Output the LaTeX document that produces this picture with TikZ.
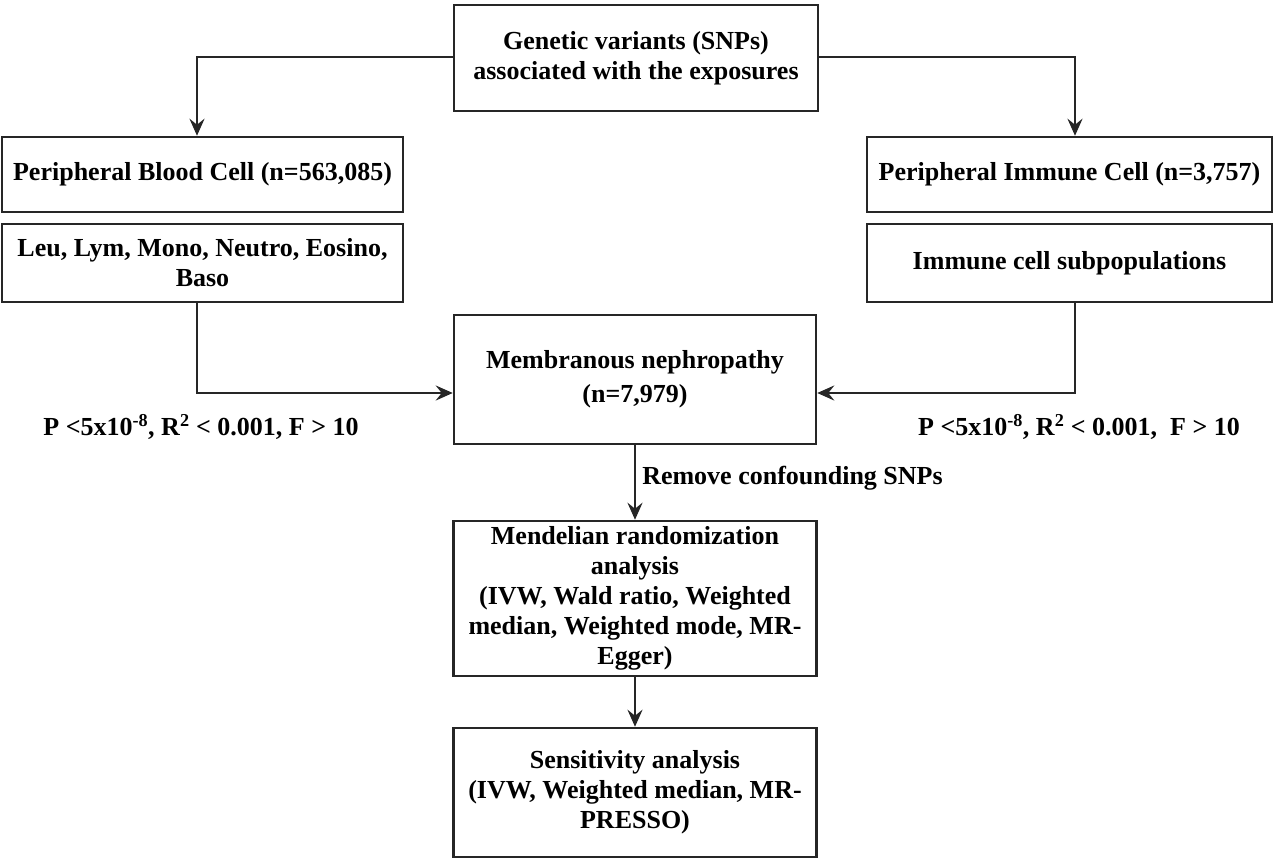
\documentclass[tikz,border=0pt]{standalone}
\usepackage{fontspec}
\setmainfont{Liberation Serif}
\usetikzlibrary{arrows.meta}
\begin{document}
\begin{tikzpicture}[x=1pt,y=-1pt,
  box/.style={draw=black!85,line width=2.5pt,align=center,inner sep=2pt,
    font=\fontsize{26}{30}\selectfont\bfseries},
  lab/.style={font=\fontsize{26}{30}\selectfont\bfseries,inner sep=0pt},
  arr/.style={draw=black!85,line width=2.5pt,-{Stealth[length=17pt,width=15pt,inset=6pt]}}]
\useasboundingbox (0,0) rectangle (1280,867);
\fill[white] (0,0) rectangle (1280,867);
\node[box,minimum width=364pt,minimum height=106pt] (top) at (636,58)
  {Genetic variants (SNPs)\\associated with the exposures};
\node[box,minimum width=401pt,minimum height=75pt] (left1) at (202.5,174.5)
  {Peripheral Blood Cell (n=563,085)};
\node[box,minimum width=401pt,minimum height=78pt] (left2) at (202.5,263)
  {Leu, Lym, Mono, Neutro, Eosino,\\Baso};
\node[box,minimum width=405pt,minimum height=75pt] (right1) at (1069.5,174.5)
  {Peripheral Immune Cell (n=3,757)};
\node[box,minimum width=405pt,minimum height=78pt] (right2) at (1069.5,263)
  {Immune cell subpopulations};
\node[box,minimum width=362pt,minimum height=129pt,
  font=\fontsize{26}{34}\selectfont\bfseries] (mn) at (635,379.5)
  {Membranous nephropathy\\(n=7,979)};
\node[box,minimum width=363pt,minimum height=155pt] (mr) at (635,598.5)
  {Mendelian randomization\\analysis\\(IVW, Wald ratio, Weighted\\median, Weighted mode, MR-\\Egger)};
\node[box,minimum width=363pt,minimum height=129pt] (sens) at (635,792.5)
  {Sensitivity analysis\\(IVW, Weighted median, MR-\\PRESSO)};
\node[lab] (plab) at (201,427) {P <5x10\textsuperscript{-8}, R\textsuperscript{2} < 0.001, F > 10};
\node[lab] (prab) at (1079,427) {P <5x10\textsuperscript{-8}, R\textsuperscript{2} < 0.001,\ \ F > 10};
\draw[arr] ([yshift=1pt]top.west) -| ([xshift=-5.5pt]left1.north);
\draw[arr] ([yshift=1pt]top.east) -| ([xshift=5.5pt]right1.north);
\draw[arr] ([xshift=-5.5pt]left2.south) |- ([yshift=-13.5pt]mn.west);
\draw[arr] ([xshift=5.5pt]right2.south) |- ([yshift=-13.5pt]mn.east);
\draw[arr] (mn.south) -- node[lab,right=6pt,pos=0.44] {Remove confounding SNPs} (mr.north);
\draw[arr] (mr.south) -- (sens.north);
\end{tikzpicture}
\end{document}
